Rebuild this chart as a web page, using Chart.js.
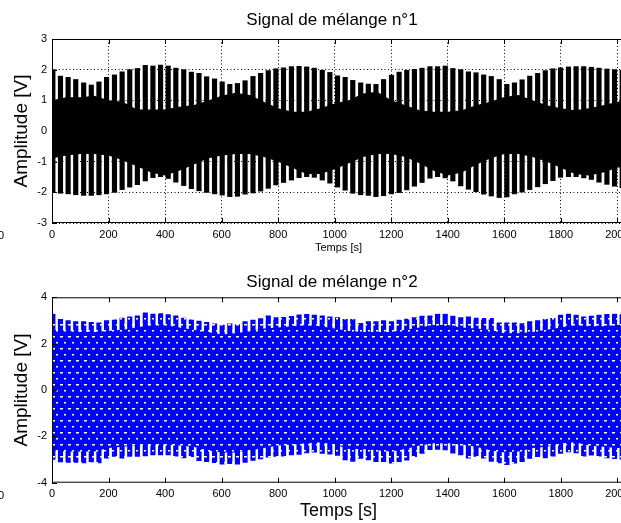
<!DOCTYPE html>
<html>
<head>
<meta charset="utf-8">
<script src="https://cdn.jsdelivr.net/npm/chart.js@4.4.1/dist/chart.umd.min.js"></script>
<style>
  html, body { margin: 0; padding: 0; background: #fff; overflow: hidden; width: 621px; height: 523px; }
  .wrap { position: absolute; left: 0; width: 664px; }
  .stray { position: absolute; left: -2px; font: 11px "Liberation Sans", sans-serif; color: #000; }
</style>
</head>
<body>
<div class="wrap" style="top:0;height:262px"><canvas id="c1" width="664" height="262"></canvas></div>
<div class="wrap" style="top:262px;height:261px"><canvas id="c2" width="664" height="261"></canvas></div>
<span class="stray" style="top:229px">0</span>
<span class="stray" style="top:489px">0</span>
<script>
// instants des grandes oscillations (s)
const spikeTimes = [
  3, 30, 57, 84, 112, 139, 166, 193, 221, 248,
  275, 302, 330, 357, 384, 411, 438, 466, 493, 520,
  547, 575, 602, 629, 656, 683, 711, 738, 765, 792,
  819, 847, 874, 901, 928, 956, 983, 1010, 1037, 1064,
  1092, 1119, 1146, 1173, 1201, 1228, 1255, 1282, 1309, 1337,
  1364, 1391, 1418, 1446, 1473, 1500, 1527, 1554, 1582, 1609,
  1636, 1663, 1690, 1718, 1745, 1772, 1799, 1827, 1854, 1881,
  1908, 1935, 1963, 1990, 2017
];

// melange 1 : crêtes haute / basse de chaque oscillation
const mix1Top = [
  2.0, 1.79, 1.75, 1.68, 1.57, 1.5, 1.6, 1.75, 1.83, 1.93,
  2.0, 2.04, 2.14, 2.12, 2.15, 2.12, 2.05, 2.0, 1.92, 1.88,
  1.77, 1.7, 1.6, 1.52, 1.55, 1.64, 1.78, 1.88, 1.97, 2.03,
  2.06, 2.1, 2.11, 2.09, 2.05, 1.98, 1.91, 1.8, 1.75, 1.65,
  1.57, 1.53, 1.52, 1.68, 1.82, 1.92, 1.98, 2.01, 2.05, 2.1,
  2.1, 2.12, 2.04, 2.0, 1.93, 1.9, 1.83, 1.78, 1.68, 1.52,
  1.57, 1.67, 1.79, 1.88, 1.97, 2.03, 2.06, 2.09, 2.1, 2.1,
  2.08, 2.05, 2.02, 2.0, 1.98
];
const mix1Bottom = [
  -1.98, -2.03, -2.05, -2.08, -2.1, -2.1, -2.08, -2.05, -2.0, -1.91,
  -1.83, -1.75, -1.63, -1.52, -1.49, -1.55, -1.67, -1.78, -1.88, -1.95,
  -2.0, -2.05, -2.09, -2.14, -2.13, -2.06, -2.02, -1.96, -1.87, -1.76,
  -1.68, -1.6, -1.52, -1.49, -1.51, -1.6, -1.7, -1.83, -1.93, -2.03,
  -2.08, -2.1, -2.14, -2.11, -2.05, -2.01, -1.92, -1.8, -1.68, -1.54,
  -1.49, -1.53, -1.63, -1.79, -1.9, -1.98, -2.06, -2.12, -2.17, -2.15,
  -2.05, -1.99, -1.91, -1.82, -1.72, -1.62, -1.51, -1.49, -1.49, -1.53,
  -1.58, -1.67, -1.74, -1.8, -1.85
];

// bande pleine centrale (partie sans blanc), echantillonnee tous les 50 s
const coreTimes = [
  0, 50, 100, 150, 200, 250, 300, 350, 400, 450,
  500, 550, 600, 650, 700, 750, 800, 850, 900, 950,
  1000, 1050, 1100, 1150, 1200, 1250, 1300, 1350, 1400, 1450,
  1500, 1550, 1600, 1650, 1700, 1750, 1800, 1850, 1900, 1950,
  2000, 2050
];
const mix1CoreTop = [
  1.0, 1.1, 1.1, 1.15, 1.0, 0.95, 0.7, 0.7, 0.7, 0.79,
  0.84, 0.99, 1.15, 1.25, 1.17, 0.95, 0.74, 0.63, 0.63, 0.74,
  0.9, 1.0, 1.22, 1.28, 1.0, 0.84, 0.68, 0.63, 0.63, 0.68,
  0.84, 0.95, 1.11, 1.17, 1.0, 0.84, 0.74, 0.68, 0.74, 0.84,
  0.95, 1.0
];
const mix1CoreBottom = [
  -0.9, -0.8, -0.75, -0.75, -0.8, -0.95, -1.15, -1.35, -1.45, -1.3,
  -1.1, -0.9, -0.8, -0.75, -0.75, -0.85, -1.0, -1.2, -1.4, -1.4,
  -1.25, -1.05, -0.85, -0.75, -0.75, -0.85, -1.05, -1.3, -1.45, -1.35,
  -1.1, -0.9, -0.75, -0.75, -0.85, -1.0, -1.2, -1.4, -1.45, -1.35,
  -1.2, -1.1
];

// melange 2
const mix2Top = [
  3.28, 3.05, 3.0, 2.95, 2.95, 2.92, 2.9, 3.0, 3.03, 3.1,
  3.16, 3.2, 3.33, 3.28, 3.3, 3.25, 3.2, 3.1, 3.03, 2.97,
  2.92, 2.85, 2.8, 2.85, 2.82, 2.95, 3.02, 3.08, 3.2, 3.12,
  3.14, 3.18, 3.24, 3.26, 3.23, 3.2, 3.16, 3.12, 3.05, 3.05,
  2.88, 2.95, 2.95, 3.0, 2.95, 3.02, 3.06, 3.13, 3.19, 3.2,
  3.28, 3.28, 3.19, 3.13, 3.16, 3.1, 3.09, 3.09, 2.9, 2.9,
  2.9, 2.87, 2.95, 3.0, 3.05, 3.09, 3.23, 3.28, 3.23, 3.16,
  3.19, 3.23, 3.26, 3.28, 3.25
];
const mix2Bottom = [
  -3.0, -3.1, -3.13, -3.13, -3.15, -3.1, -3.15, -2.94, -2.87, -2.94,
  -2.87, -2.87, -2.84, -2.8, -2.8, -2.8, -2.86, -2.93, -2.88, -3.05,
  -3.09, -3.14, -3.2, -3.18, -3.2, -3.12, -3.04, -2.97, -2.9, -2.87,
  -2.85, -2.8, -2.78, -2.72, -2.68, -2.74, -2.77, -2.82, -3.02, -3.08,
  -2.95, -3.02, -3.09, -3.09, -3.16, -3.09, -3.03, -2.88, -2.74, -2.58,
  -2.56, -2.59, -2.73, -2.8, -2.94, -2.87, -2.94, -3.08, -3.15, -3.22,
  -3.16, -3.09, -2.95, -2.88, -2.93, -2.85, -2.74, -2.67, -2.72, -2.86,
  -2.81, -2.86, -2.93, -2.96, -2.98
];
const mix2CoreTop = [
  2.6, 2.55, 2.5, 2.5, 2.55, 2.6, 2.7, 2.8, 2.8, 2.7,
  2.6, 2.5, 2.4, 2.45, 2.55, 2.65, 2.7, 2.75, 2.8, 2.75,
  2.65, 2.55, 2.5, 2.5, 2.5, 2.6, 2.7, 2.8, 2.8, 2.7,
  2.65, 2.6, 2.45, 2.45, 2.5, 2.6, 2.7, 2.8, 2.75, 2.75,
  2.8, 2.8
];
const mix2CoreBottom = [
  -2.6, -2.65, -2.65, -2.65, -2.5, -2.45, -2.4, -2.35, -2.35, -2.4,
  -2.45, -2.6, -2.7, -2.7, -2.6, -2.5, -2.4, -2.35, -2.3, -2.25,
  -2.35, -2.55, -2.55, -2.6, -2.65, -2.55, -2.4, -2.3, -2.3, -2.35,
  -2.45, -2.6, -2.7, -2.65, -2.5, -2.45, -2.3, -2.25, -2.4, -2.45,
  -2.5, -2.5
];

const timeTicks = [0, 200, 400, 600, 800, 1000, 1200, 1400, 1600, 1800, 2000];
const ampTicks1 = [-3, -2, -1, 0, 1, 2, 3];
const ampTicks2 = [-4, -2, 0, 2, 4];

const SANS = '"Liberation Sans", Arial, sans-serif';

// cadre + graduations interieures facon matlab
const boxTicks = {
  id: 'boxTicks',
  afterDatasetsDraw(chart) {
    const {ctx, chartArea: a, scales: {x, y}} = chart;
    ctx.save();
    ctx.strokeStyle = '#000';
    ctx.lineWidth = 1;
    ctx.strokeRect(a.left + 0.5, a.top + 0.5, a.right - a.left, a.bottom - a.top - 1);
    ctx.beginPath();
    x.ticks.forEach(t => {
      const px = Math.round(x.getPixelForValue(t.value)) + 0.5;
      ctx.moveTo(px, a.bottom); ctx.lineTo(px, a.bottom - 5);
      ctx.moveTo(px, a.top); ctx.lineTo(px, a.top + 5);
    });
    y.ticks.forEach(t => {
      const py = Math.round(y.getPixelForValue(t.value)) + 0.5;
      ctx.moveTo(a.left, py); ctx.lineTo(a.left + 5, py);
    });
    ctx.stroke();
    ctx.restore();
  }
};

function buildOptions(o) {
  return {
    responsive: false,
    animation: false,
    layout: {padding: 0},
    plugins: {
      legend: {display: false},
      tooltip: {enabled: false},
      title: {
        display: true, text: o.title, color: '#000',
        font: {family: SANS, size: 17, weight: 'normal'},
        padding: {top: 10, bottom: o.titleGap}
      }
    },
    scales: {
      x: {
        type: 'linear', min: 0, max: 2027, offset: false,
        afterBuildTicks: s => { s.ticks = timeTicks.map(v => ({value: v})); },
        afterFit: s => { s.height = o.xHeight; },
        ticks: {font: {family: SANS, size: 11}, color: '#000', padding: 5, maxRotation: 0, autoSkip: false, callback: v => String(v)},
        grid: {display: o.grid, drawTicks: false, color: '#000', offset: false},
        border: {display: false, dash: [1, 2.5]},
        title: {display: true, text: 'Temps [s]', color: '#000', font: o.xTitleFont, padding: {top: 0, bottom: o.xTitlePad}}
      },
      y: {
        min: o.yTicks[0], max: o.yTicks[o.yTicks.length - 1],
        afterBuildTicks: s => { s.ticks = o.yTicks.map(v => ({value: v})); },
        afterFit: s => { s.width = 52; },
        ticks: {font: {family: SANS, size: 11}, color: '#000', padding: 5, callback: v => String(v)},
        grid: {display: o.grid, drawTicks: false, color: '#000'},
        border: {display: false, dash: [1, 2.5]},
        title: {display: true, text: 'Amplitude [V]', color: '#000', font: {family: SANS, size: 19}, padding: {top: 10.6, bottom: 0}}
      },
      // marge droite : l'axe de la figure d'origine est coupe par le cadrage
      yr: {
        position: 'right', display: true,
        afterFit: s => { s.width = 39; },
        ticks: {display: false},
        grid: {display: false, drawTicks: false},
        border: {display: false}
      }
    }
  };
}

function buildData(top, bottom, coreTop, coreBottom, fillStyle) {
  return {
    datasets: [
      {type: 'line', data: coreTimes.map((t, i) => ({x: t, y: coreTop[i]})), borderWidth: 0, pointRadius: 0, fill: '+1', backgroundColor: fillStyle, order: 2},
      {type: 'line', data: coreTimes.map((t, i) => ({x: t, y: coreBottom[i]})), borderWidth: 0, pointRadius: 0, fill: false, order: 2},
      {type: 'bar', data: spikeTimes.map((t, i) => ({x: t, y: [bottom[i], top[i]]})), backgroundColor: fillStyle, borderWidth: 0, barThickness: 4.5, order: 1}
    ]
  };
}

// motif tirets blancs sur fond bleu (trace '--' de matlab)
const ctx2 = document.getElementById('c2').getContext('2d');
const tile = document.createElement('canvas');
tile.width = 8; tile.height = 12;
const tg = tile.getContext('2d');
tg.fillStyle = '#0000ff'; tg.fillRect(0, 0, 8, 12);
tg.fillStyle = '#ffffff';
tg.fillRect(4, 2, 3, 1.5);
tg.fillRect(0, 8, 2, 1.5);
const bluePattern = ctx2.createPattern(tile, 'repeat');

new Chart(document.getElementById('c1'), {
  type: 'bar',
  data: buildData(mix1Top, mix1Bottom, mix1CoreTop, mix1CoreBottom, '#000'),
  options: buildOptions({
    title: 'Signal de mélange n°1', titleGap: 8.6, xHeight: 39, grid: true, yTicks: ampTicks1,
    xTitleFont: {family: SANS, size: 11}, xTitlePad: 7.4
  }),
  plugins: [boxTicks]
});

new Chart(ctx2, {
  type: 'bar',
  data: buildData(mix2Top, mix2Bottom, mix2CoreTop, mix2CoreBottom, bluePattern),
  options: buildOptions({
    title: 'Signal de mélange n°2', titleGap: 4.9, xHeight: 40.3, grid: false, yTicks: ampTicks2,
    xTitleFont: {family: SANS, size: 18}, xTitlePad: 1.2
  }),
  plugins: [boxTicks]
});
</script>
</body>
</html>
